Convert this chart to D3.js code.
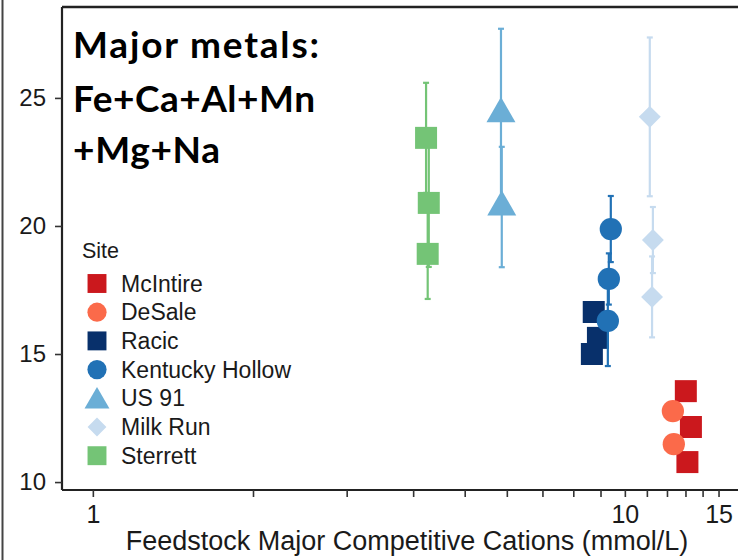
<!DOCTYPE html>
<html>
<head>
<meta charset="utf-8">
<script src="https://cdn.jsdelivr.net/npm/d3@7"></script>
<style>
  html, body { margin: 0; padding: 0; background: #fff; }
  svg { display: block; }
  text { font-family: "Liberation Sans", Arial, sans-serif; fill: #1a1a1a; }
</style>
</head>
<body>
<svg id="chart" width="738" height="560"></svg>
<script>
// ---------- data ----------
const sites  = ["McIntire", "DeSale", "Racic", "Kentucky Hollow", "US 91", "Milk Run", "Sterrett"];
const colors = ["#cb181d", "#fb6a4a", "#08306b", "#2171b5", "#6baed6", "#c6dbef", "#74c476"];
const shapes = ["square", "circle", "square", "circle", "triangle", "diamond", "square"];

const mcintireX = [13.02, 13.31, 13.11];
const mcintireY = [13.55, 12.15, 10.78];
const mcintireErr = [0, 0, 0];

const desaleX = [12.31, 12.36];
const desaleY = [12.77, 11.48];
const desaleErr = [0, 0];

const racicX = [8.74, 8.90, 8.67];
const racicY = [16.64, 15.63, 15.00];
const racicErr = [0, 0, 0];

const kentuckyX = [9.41, 9.33, 9.29];
const kentuckyY = [19.88, 17.93, 16.29];
const kentuckyErr = [1.29, 1.0, 1.76];

const us91X = [5.85, 5.87];
const us91Y = [24.38, 20.74];
const us91Err = [3.32, 2.35];

const milkRunX = [11.14, 11.29, 11.25];
const milkRunY = [24.26, 19.45, 17.23];
const milkRunErr = [3.10, 1.29, 1.58];

const sterrettX = [4.23, 4.28, 4.26];
const sterrettY = [23.44, 20.90, 18.91];
const sterrettErr = [2.15, 2.50, 1.76];

const xTicks = [1, 2, 3, 4, 5, 6, 7, 8, 9, 10, 11, 12, 13, 14, 15];
const xTickLabels = { 1: "1", 10: "10", 15: "15" };
const yTicks = [10, 15, 20, 25];
const titleLines = ["Major metals:", "Fe+Ca+Al+Mn", "+Mg+Na"];
const legendTitle = "Site";
const xTitle = "Feedstock Major Competitive Cations (mmol/L)";

// ---------- build ----------
const seriesX = [mcintireX, desaleX, racicX, kentuckyX, us91X, milkRunX, sterrettX];
const seriesY = [mcintireY, desaleY, racicY, kentuckyY, us91Y, milkRunY, sterrettY];
const seriesE = [mcintireErr, desaleErr, racicErr, kentuckyErr, us91Err, milkRunErr, sterrettErr];
const series = sites.map((s, i) => ({
  site: s, color: colors[i], shape: shapes[i],
  points: seriesX[i].map((x, j) => ({ x, y: seriesY[i][j], e: seriesE[i][j] }))
}));

const svg = d3.select("#chart");
const pLeft = 62, pTop = 7, pBottom = 490;
const x = d3.scaleLog().domain([0.875, 17]).range([pLeft, pLeft + 532 * Math.log10(17 / 0.875)]);
const y = d3.scaleLinear().domain([9.69, 28.55]).range([pBottom, pTop]);

// outer frame line
svg.append("line").attr("x1", 2.5).attr("x2", 2.5).attr("y1", 0).attr("y2", 560)
  .attr("stroke", "#444").attr("stroke-width", 2);

// top panel border
svg.append("line").attr("x1", pLeft).attr("x2", 738).attr("y1", pTop).attr("y2", pTop)
  .attr("stroke", "#222").attr("stroke-width", 2.5);

// axes
const xAxis = d3.axisBottom(x).tickValues(xTicks)
  .tickFormat(d => xTickLabels[d] || "").tickSize(7).tickPadding(8).tickSizeOuter(0);
const gx = svg.append("g").attr("transform", `translate(0,${pBottom})`).call(xAxis);
gx.select(".domain").attr("stroke", "#222").attr("stroke-width", 2.2);
gx.selectAll(".tick line").attr("stroke", "#333").attr("stroke-width", 1.6);
gx.selectAll(".tick text").attr("font-size", 25).attr("font-family", "Liberation Sans, Arial").attr("fill", "#1a1a1a");

const yAxis = d3.axisLeft(y).tickValues(yTicks).tickSize(7).tickPadding(9).tickSizeOuter(0);
const gy = svg.append("g").attr("transform", `translate(${pLeft},0)`).call(yAxis);
gy.select(".domain").attr("stroke", "#222").attr("stroke-width", 2.2);
gy.selectAll(".tick line").attr("stroke", "#333").attr("stroke-width", 1.6);
gy.selectAll(".tick text").attr("font-size", 24).attr("font-family", "Liberation Sans, Arial").attr("fill", "#1a1a1a");

gy.select(".domain").attr("d", `M0,${pTop}V${pBottom}`);
gx.select(".domain").attr("d", `M${pLeft},0H738`);

// symbols
function symPath(shape, scale) {
  const s = scale || 1;
  if (shape === "square") return d3.symbol(d3.symbolSquare, 484 * s * s)();
  if (shape === "circle") return d3.symbol(d3.symbolCircle, 390 * s * s)();
  if (shape === "triangle") return d3.symbol(d3.symbolTriangle, 364 * s * s)();
  if (shape === "diamond") return d3.symbol(d3.symbolSquare, 240 * s * s)();
  return d3.symbol(d3.symbolCircle, 300)();
}
function symTransform(shape, px, py) {
  return shape === "diamond" ? `translate(${px},${py}) rotate(45)` : `translate(${px},${py})`;
}

const plot = svg.append("g");
series.forEach(s => {
  const g = plot.append("g");
  const withErr = s.points.filter(p => p.e > 0);
  const eb = g.selectAll("g.eb").data(withErr).join("g")
    .attr("stroke", s.color).attr("stroke-width", 2.2).attr("fill", "none");
  eb.append("line").attr("x1", p => x(p.x)).attr("x2", p => x(p.x))
    .attr("y1", p => y(p.y + p.e)).attr("y2", p => y(p.y - p.e));
  eb.append("line").attr("x1", p => x(p.x) - 3).attr("x2", p => x(p.x) + 3)
    .attr("y1", p => y(p.y + p.e)).attr("y2", p => y(p.y + p.e));
  eb.append("line").attr("x1", p => x(p.x) - 3).attr("x2", p => x(p.x) + 3)
    .attr("y1", p => y(p.y - p.e)).attr("y2", p => y(p.y - p.e));
  g.selectAll("path.pt").data(s.points).join("path")
    .attr("d", symPath(s.shape))
    .attr("transform", p => symTransform(s.shape, x(p.x), y(p.y)))
    .attr("fill", s.color);
});

// title
const titleWidths = [246, 242, 147];
const title = svg.append("g");
title.selectAll("text").data(titleLines).join("text")
  .attr("x", 73).attr("y", (d, i) => [58, 112, 163][i])
  .attr("font-weight", 700)
  .attr("font-size", 37)
  .attr("textLength", (d, i) => titleWidths[i])
  .attr("lengthAdjust", "spacing")
  .style("font-family", "Lato, sans-serif")
  .style("fill", "#000")
  .text(d => d);

// legend
const leg = svg.append("g");
leg.append("text").attr("x", 82).attr("y", 258).attr("font-size", 21.5).text(legendTitle);
const li = leg.selectAll("g.li").data(series).join("g")
  .attr("transform", (d, i) => `translate(0,${283.5 + i * 28.7})`);
li.append("path").attr("d", d => symPath(d.shape, 0.86))
  .attr("transform", d => symTransform(d.shape, 97, d.shape === "triangle" ? 3 : 0))
  .attr("fill", d => d.color);
li.append("text").attr("x", 121).attr("y", 8).attr("font-size", 23).text(d => d.site);

// x axis title
svg.append("text").attr("x", 407).attr("y", 550).attr("text-anchor", "middle")
  .attr("font-size", 27).text(xTitle);
</script>
</body>
</html>
